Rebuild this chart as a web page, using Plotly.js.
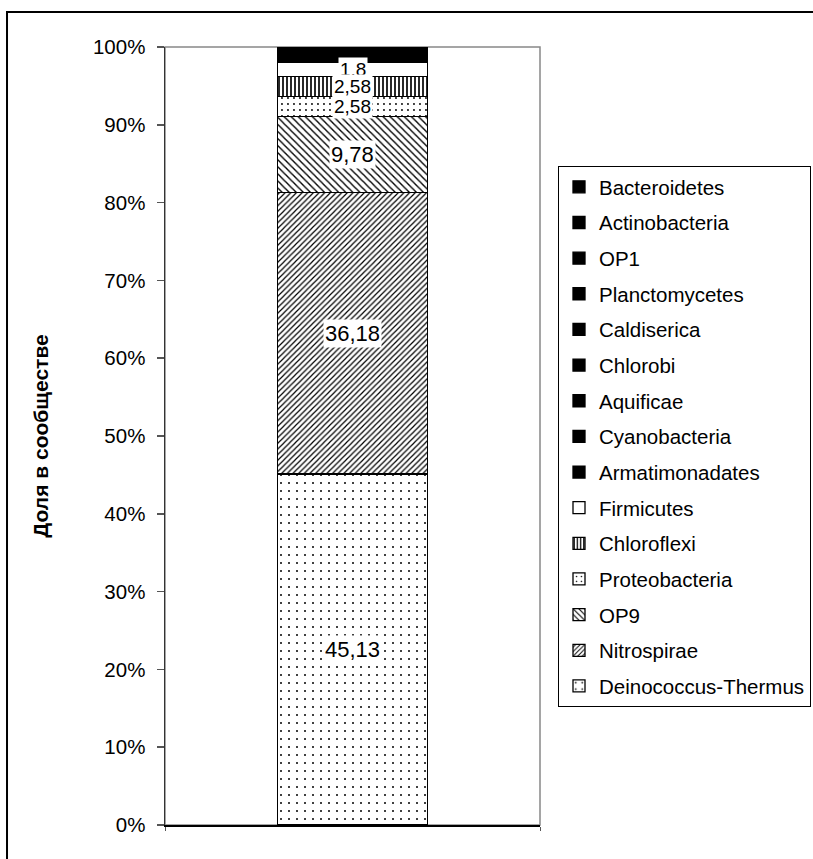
<!DOCTYPE html>
<html>
<head>
<meta charset="utf-8">
<script src="https://cdn.plot.ly/plotly-3.0.1.min.js"></script>
<style>
  html, body { margin: 0; padding: 0; background: #fff; overflow: hidden; }
  #chart { width: 813px; height: 859px; }
</style>
</head>
<body>
<div id="chart"></div>
<script>
// ---- data (bottom of stack to top) ----
const categories = [""];
const seriesNames = [
  "Deinococcus-Thermus", "Nitrospirae", "OP9", "Proteobacteria", "Chloroflexi",
  "Firmicutes", "Armatimonadates", "Cyanobacteria", "Aquificae", "Chlorobi",
  "Caldiserica", "Planctomycetes", "OP1", "Actinobacteria", "Bacteroidetes"
];
const seriesValues = [
  45.13, 36.18, 9.78, 2.58, 2.58,
  1.8, 0.45, 0.35, 0.3, 0.25,
  0.2, 0.15, 0.1, 0.1, 0.05
];
const labelledSeries = ["Deinococcus-Thermus", "Nitrospirae", "OP9", "Proteobacteria", "Firmicutes", "Chloroflexi"];
const yTickValues = [0, 10, 20, 30, 40, 50, 60, 70, 80, 90, 100];
const yTickLabels = ["0%", "10%", "20%", "30%", "40%", "50%", "60%", "70%", "80%", "90%", "100%"];
const yAxisTitle = "Доля в сообществе";

// ---- styles ----
const FONT = "Liberation Sans, Arial, sans-serif";
const patternStyles = {
  "Deinococcus-Thermus": { shape: ".", size: 8, solidity: 0.05 },
  "Nitrospirae": { shape: "/", size: 4, solidity: 0.3 },
  "OP9": { shape: "\\", size: 5, solidity: 0.28 },
  "Proteobacteria": { shape: ".", size: 6, solidity: 0.08 },
  "Chloroflexi": { shape: "|", size: 4, solidity: 0.42 },
  "Firmicutes": null
};

const N = seriesNames.length;
const traces = seriesNames.map((name, i) => {
  const isBlack = !(name in patternStyles);
  const pat = patternStyles[name];
  const marker = {
    color: isBlack ? "#000" : "#fff",
    line: { color: "#000", width: 1.3 }
  };
  if (pat) {
    marker.pattern = {
      shape: pat.shape, size: pat.size, solidity: pat.solidity,
      fgcolor: "#000", bgcolor: "#fff", fillmode: "replace"
    };
  }
  return {
    type: "bar",
    name: name,
    x: categories,
    y: [seriesValues[i]],
    width: 0.4,
    marker: marker,
    legendgroup: "g" + i,
    legendrank: 1000 + (N - i),
    hoverinfo: "skip"
  };
});

// labels at midpoints of segments
const cum = [];
let acc = 0;
seriesValues.forEach(v => { cum.push(acc + v / 2); acc += v; });
const annotations = labelledSeries.map(name => {
  const i = seriesNames.indexOf(name);
  const v = seriesValues[i];
  return {
    x: categories[0], y: cum[i], xref: "x", yref: "y",
    text: String(v).replace(".", ","),
    showarrow: false,
    bgcolor: "#fff",
    borderpad: 1,
    font: { family: FONT, size: v >= 5 ? 22 : 19, color: "#000" }
  };
});

const layout = {
  width: 813, height: 859,
  margin: { l: 165, r: 273, t: 47, b: 34, pad: 0 },
  paper_bgcolor: "#fff", plot_bgcolor: "#fff",
  barmode: "stack",
  showlegend: true,
  font: { family: FONT, color: "#000" },
  xaxis: {
    type: "category",
    range: [-0.5, 0.5],
    showticklabels: false,
    showgrid: false, zeroline: false,
    showline: true, linecolor: "#000", linewidth: 2,
    ticks: "outside", ticklen: 4, tickcolor: "#555", tickson: "boundaries",
    automargin: false,
    fixedrange: true
  },
  yaxis: {
    range: [0, 100],
    tickvals: yTickValues, ticktext: yTickLabels,
    tickfont: { family: FONT, size: 20.5, color: "#000" },
    ticks: "outside", ticklen: 7, tickcolor: "#555", tickwidth: 1.5,
    ticklabelstandoff: 7,
    showgrid: false, zeroline: false,
    showline: true, linecolor: "#333", linewidth: 1.5,
    automargin: false,
    title: { text: yAxisTitle, font: { family: FONT, size: 21, color: "#000", weight: "bold" }, standoff: 38 },
    fixedrange: true
  },
  legend: {
    xref: "container", yref: "container",
    x: 558 / 813, xanchor: "left",
    y: 1 - 166 / 859, yanchor: "top",
    maxheight: 800,
    bgcolor: "#fff", bordercolor: "#000", borderwidth: 1,
    font: { family: FONT, size: 20.5, color: "#000" },
    traceorder: "grouped",
    tracegroupgap: 6,
    itemclick: false, itemdoubleclick: false
  },
  shapes: [
    { type: "rect", xref: "paper", yref: "paper", x0: 0, x1: 1, y0: 0, y1: 1,
      line: { color: "#888", width: 1.5 }, layer: "below" },
    { type: "rect", xref: "paper", yref: "paper", x0: -0.4213, x1: 1.75, y0: -0.06, y1: 1.045,
      line: { color: "#000", width: 2 }, fillcolor: "rgba(0,0,0,0)", layer: "above" }
  ],
  annotations: annotations
};

Plotly.newPlot("chart", traces, layout, { staticPlot: true, displayModeBar: false });
</script>
</body>
</html>
